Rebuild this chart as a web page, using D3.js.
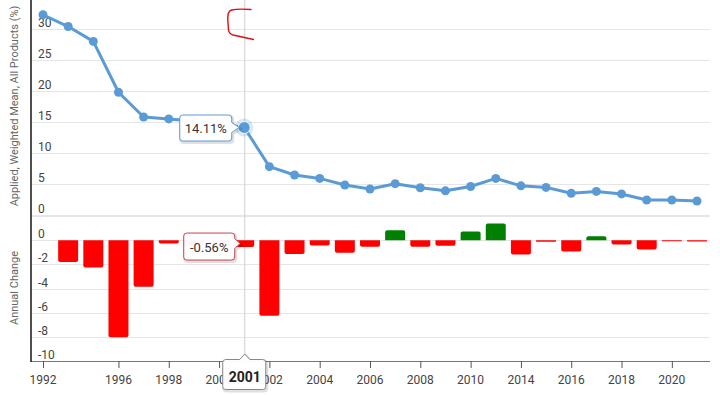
<!DOCTYPE html>
<html>
<head>
<meta charset="utf-8">
<script src="https://cdn.jsdelivr.net/npm/d3@7"></script>
<style>
  html, body { margin: 0; padding: 0; background: #fff; }
  svg { display: block; font-family: Roboto, "Open Sans", sans-serif; }
</style>
</head>
<body>
<svg id="chart" width="720" height="395"></svg>
<script>
// ---- data ----
const years = [1992, 1993, 1995, 1996, 1997, 1998, 1999, 2000, 2001, 2002, 2003, 2004, 2005, 2006,
               2007, 2008, 2009, 2010, 2011, 2014, 2015, 2016, 2017, 2018, 2019, 2020, 2021];
const tariff = [32.3, 30.4, 28.0, 19.8, 15.8, 15.5, 15.15, 14.67, 14.11, 7.8, 6.45, 5.9, 4.84, 4.19,
                5.05, 4.4, 3.9, 4.6, 5.9, 4.7, 4.45, 3.5, 3.8, 3.4, 2.42, 2.42, 2.26];
const change = [null, -1.8, -2.26, -8.04, -3.86, -0.27, -0.35, -0.48, -0.56, -6.25, -1.15, -0.44, -1.04, -0.55,
                0.82, -0.55, -0.47, 0.71, 1.37, -1.18, -0.14, -0.93, 0.33, -0.36, -0.77, -0.05, -0.1];
const xTickYears = [1992, 1996, 1998, 2000, 2002, 2004, 2006, 2008, 2010, 2014, 2016, 2018, 2020];
const topTicks = [0, 5, 10, 15, 20, 25, 30];
const bottomTicks = [-10, -8, -6, -4, -2, 0];
const bottomGrid = [-10, -8, -6, -4, -2, 0, 2];
const hoverYear = 2001;
const topTitle = "Applied, Weighted Mean, All Products (%)";
const bottomTitle = "Annual Change";

// ---- layout ----
const svg = d3.select("#chart");
const left = 31, right = 710, axisY = 361;
const x = d3.scalePoint().domain(years).range([43, 697]);
const yTop = d3.scaleLinear().domain([0, 35]).range([215, -2]);
const yBot = d3.scaleLinear().domain([-10, 2]).range([361, 216]);
const lineColor = "#5b9bd5";

// gridlines
const g = svg.append("g");
g.selectAll("line.gt").data(topTicks).join("line")
  .attr("x1", left).attr("x2", right)
  .attr("y1", d => Math.round(yTop(d)) + 0.5).attr("y2", d => Math.round(yTop(d)) + 0.5)
  .attr("stroke", "#e6e6e6").attr("stroke-width", 1);
g.selectAll("line.gb").data(bottomGrid).join("line")
  .attr("x1", left).attr("x2", right)
  .attr("y1", d => Math.round(yBot(d)) + 0.5).attr("y2", d => Math.round(yBot(d)) + 0.5)
  .attr("stroke", "#e6e6e6").attr("stroke-width", 1);

// y tick labels (inside, above gridline)
g.selectAll("text.yt").data(topTicks).join("text")
  .attr("x", 38).attr("y", d => yTop(d) - 2)
  .attr("font-size", 12).attr("fill", "#444").text(d => d);
g.selectAll("text.yb").data(bottomTicks).join("text")
  .attr("x", 38).attr("y", d => yBot(d) - 2)
  .attr("font-size", 12).attr("fill", "#444").text(d => d);

// axis titles
svg.append("text").attr("transform", `translate(18,${106}) rotate(-90)`)
  .attr("text-anchor", "middle").attr("font-size", 11).attr("fill", "#666").text(topTitle);
svg.append("text").attr("transform", `translate(18,${288}) rotate(-90)`)
  .attr("text-anchor", "middle").attr("font-size", 11).attr("fill", "#666").text(bottomTitle);

// crosshair
const hx = x(hoverYear);
svg.append("line").attr("x1", hx + 0.5).attr("x2", hx + 0.5).attr("y1", 0).attr("y2", axisY)
  .attr("stroke", "#d0d0d0").attr("stroke-width", 1);

// bars
const barW = 20;
const barData = years.map((yr, i) => ({ yr, v: change[i] })).filter(d => d.v !== null);
svg.append("g").selectAll("path").data(barData).join("path")
  .attr("d", d => {
    const x0 = x(d.yr) - barW / 2, y0 = yBot(0);
    const h = Math.max(1, Math.abs(yBot(d.v) - y0));
    const r = Math.min(2, h / 2);
    if (d.v >= 0) {
      const top = y0 - h;
      return `M${x0},${y0}V${top + r}Q${x0},${top} ${x0 + r},${top}H${x0 + barW - r}Q${x0 + barW},${top} ${x0 + barW},${top + r}V${y0}Z`;
    } else {
      const bot = y0 + h;
      return `M${x0},${y0}V${bot - r}Q${x0},${bot} ${x0 + r},${bot}H${x0 + barW - r}Q${x0 + barW},${bot} ${x0 + barW},${bot - r}V${y0}Z`;
    }
  })
  .attr("fill", d => d.v >= 0 ? "#008000" : "#ff0000");

// line
const pts = years.map((yr, i) => ({ yr, v: tariff[i] }));
svg.append("path").datum(pts)
  .attr("d", d3.line().x(d => x(d.yr)).y(d => yTop(d.v)))
  .attr("fill", "none").attr("stroke", lineColor).attr("stroke-width", 3)
  .attr("stroke-linejoin", "round");
svg.append("g").selectAll("circle").data(pts.filter(d => d.yr !== hoverYear)).join("circle")
  .attr("cx", d => x(d.yr)).attr("cy", d => yTop(d.v)).attr("r", 4.5).attr("fill", lineColor);
const hp = pts.find(d => d.yr === hoverYear);
svg.append("circle").attr("cx", x(hp.yr)).attr("cy", yTop(hp.v)).attr("r", 9)
  .attr("fill", lineColor).attr("opacity", 0.25);
svg.append("circle").attr("cx", x(hp.yr)).attr("cy", yTop(hp.v)).attr("r", 6)
  .attr("fill", lineColor).attr("stroke", "#fff").attr("stroke-width", 1);

// axes lines
svg.append("line").attr("x1", left).attr("x2", right).attr("y1", axisY + 0.5).attr("y2", axisY + 0.5)
  .attr("stroke", "#777").attr("stroke-width", 1.2);
svg.append("line").attr("x1", left).attr("x2", left).attr("y1", 0).attr("y2", axisY + 1)
  .attr("stroke", "#222").attr("stroke-width", 1.6);

// x axis ticks + labels
const xg = svg.append("g");
xg.selectAll("line").data(xTickYears).join("line")
  .attr("x1", d => x(d) + 0.5).attr("x2", d => x(d) + 0.5).attr("y1", axisY).attr("y2", axisY + 7)
  .attr("stroke", "#555").attr("stroke-width", 1);
xg.selectAll("text").data(xTickYears).join("text")
  .attr("x", d => x(d)).attr("y", axisY + 23).attr("text-anchor", "middle")
  .attr("font-size", 12).attr("fill", "#444").text(d => d);

// red scribble annotation
svg.append("path")
  .attr("d", "M251,9.5 C244,9 236,9 231.5,10 C228,11 227.5,15 227.8,20 L228.5,30 C229,33 230,34 233,35 L253.5,39.5")
  .attr("fill", "none").attr("stroke", "#e01010").attr("stroke-width", 1.4).attr("stroke-linecap", "round");

// tooltips
function callout(gp, x0, y0, w, h, side, ax, ay, stroke) {
  const r = 3;
  let d;
  if (side === "right") {
    d = `M${x0 + r},${y0}H${x0 + w - r}Q${x0 + w},${y0} ${x0 + w},${y0 + r}V${ay - 5}L${ax},${ay}L${x0 + w},${ay + 5}V${y0 + h - r}Q${x0 + w},${y0 + h} ${x0 + w - r},${y0 + h}H${x0 + r}Q${x0},${y0 + h} ${x0},${y0 + h - r}V${y0 + r}Q${x0},${y0} ${x0 + r},${y0}Z`;
  } else {
    d = `M${x0 + r},${y0}H${ax - 5}L${ax},${ay}L${ax + 5},${y0}H${x0 + w - r}Q${x0 + w},${y0} ${x0 + w},${y0 + r}V${y0 + h - r}Q${x0 + w},${y0 + h} ${x0 + w - r},${y0 + h}H${x0 + r}Q${x0},${y0 + h} ${x0},${y0 + h - r}V${y0 + r}Q${x0},${y0} ${x0 + r},${y0}Z`;
  }
  gp.append("path").attr("d", d).attr("transform", "translate(1,1.5)")
    .attr("fill", "none").attr("stroke", "rgba(0,0,0,0.12)").attr("stroke-width", 3);
  gp.append("path").attr("d", d).attr("fill", "rgba(255,255,255,0.97)")
    .attr("stroke", stroke).attr("stroke-width", 1);
}
const tt = svg.append("g");
const topY = yTop(hp.v);
callout(tt, hx - 64.5, topY - 12.5, 52, 26, "right", hx - 5, topY, lineColor);
tt.append("text").attr("x", hx - 38.5).attr("y", topY + 5).attr("text-anchor", "middle")
  .attr("font-size", 13).attr("fill", "#333").text(hp.v.toFixed(2) + "%");

const hv = change[years.indexOf(hoverYear)];
const botY = yBot(hv / 2);
callout(tt, hx - 60.5, botY - 10.5, 51, 27, "right", hx - 4, botY, "#c9404f");
tt.append("text").attr("x", hx - 35).attr("y", botY + 8).attr("text-anchor", "middle")
  .attr("font-size", 13).attr("fill", "#333").text(hv.toFixed(2) + "%");

callout(tt, hx - 21.5, axisY - 1.5, 43, 30, "top", hx + 0.5, axisY - 7, "#888");
tt.append("text").attr("x", hx + 0.5).attr("y", axisY + 21).attr("text-anchor", "middle")
  .attr("font-size", 14).attr("font-weight", "bold").attr("fill", "#222").text(hoverYear);
</script>
</body>
</html>
